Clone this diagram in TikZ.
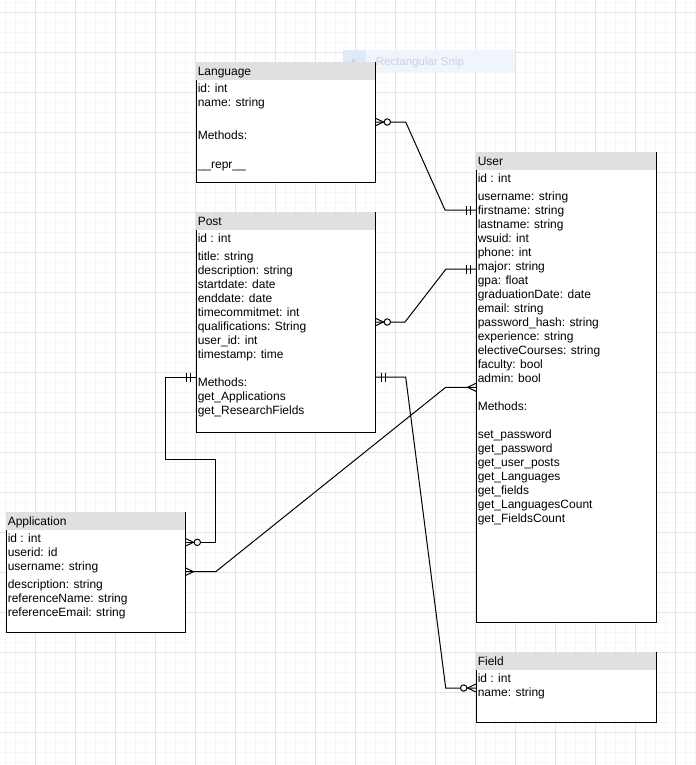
\documentclass[tikz,border=0pt]{standalone}
\usepackage{fontspec}
\setmainfont{Liberation Sans}
\usetikzlibrary{calc,fit}

\definecolor{gridmajor}{RGB}{228,228,228}
\definecolor{gridminor}{RGB}{246,246,246}
\definecolor{hdrgray}{RGB}{224,224,224}
\definecolor{snipfill}{RGB}{239,245,251}
\definecolor{snipicon}{RGB}{224,234,247}
\definecolor{sniptext}{RGB}{203,211,224}

\tikzset{
  majorline/.style={draw=gridmajor, line width=0.75pt},
  minorline/.style={draw=gridminor, line width=0.75pt},
  boxline/.style={draw=black, line width=0.75pt},
  conn/.style={draw=black, line width=0.75pt, line join=miter},
  hdrtext/.style={anchor=base west, inner sep=0pt, font=\fontsize{9}{10.5}\selectfont},
  bodytext/.style={anchor=base west, inner sep=0pt, font=\fontsize{9}{10.5}\selectfont},
  % ER end symbols: origin on the entity edge, connector leaving along +x
  zeromany/.pic={
    \draw[conn] (0,-4) -- (8.5,0) -- (0,4);
    \draw[conn, fill=white] (12.3,0) circle[radius=3.2];
  },
  many/.pic={
    \draw[conn] (0,-4) -- (8.5,0) -- (0,4);
  },
  mandone/.pic={
    \draw[conn] (6,-4.5) -- (6,4.5) (10,-4.5) -- (10,4.5);
  },
}

% entity box: name, left, top, right, bottom, title
\newcommand\erentity[6]{%
  \coordinate (#1-nw) at (#2,#3);
  \coordinate (#1-se) at (#4,#5);
  \node[fit=(#1-nw)(#1-se), inner sep=0pt, outer sep=0pt, fill=white] (#1) {};
  \fill[hdrgray] (#1.north west) rectangle ($(#1.north east)+(0,18)$);
  \draw[boxline] ($(#1.north west)+(0,18)$) -- (#1.south west) -- (#1.south east) -- (#1.north east);
  \node[hdrtext] (#1-title) at ($(#1.north west)+(1.5,13)$) {#6};
}
% attribute list: first baseline at the node's base, 10.5pt line pitch
\newcommand\attrlist[1]{\vtop{\baselineskip=10.5pt\lineskiplimit=-10pt #1}}
\newcommand\attrline[1]{\hbox{#1}}
\newcommand\attrgap[1]{\vskip#1}

\begin{document}
\begin{tikzpicture}[x=0.75pt, y=-0.75pt]
\useasboundingbox (0,0) rectangle (696,765);

% background grid
\fill[white] (0,0) rectangle (696,765);
\foreach \gx in {5.5,15.5,...,695.5} \draw[minorline] (\gx,0) -- (\gx,765);
\foreach \gy in {2.3,12.3,...,762.3} \draw[minorline] (0,\gy) -- (696,\gy);
\foreach \gx in {35.5,75.5,...,695.5} \draw[majorline] (\gx,0) -- (\gx,765);
\foreach \gy in {12.3,52.3,...,762.3} \draw[majorline] (0,\gy) -- (696,\gy);

% snipping tool caption bar
\fill[snipfill] (343,50) rectangle (515,72);
\fill[snipicon] (343,50) rectangle (366,72);
\fill[sniptext] (353.5,61) circle[radius=2.2];
\node[anchor=base west, inner sep=0pt, text=sniptext, font=\fontsize{8.6}{10}\selectfont] (snip) at (375.7,65) {Rectangular Snip};

% entities
\erentity{language}{196}{62}{375}{182}{Language}
\node[bodytext] (language-body) at ($(language.north west)+(1.5,30.7)$)
  {\attrlist{\attrline{id: int}\attrline{name: string}\attrgap{14pt}\attrline{Methods:}\attrgap{11pt}\attrline{\_\_repr\_\_}}};

\erentity{post}{196}{212}{375}{432}{Post}
\node[bodytext] (post-body) at ($(post.north west)+(1.5,30.7)$)
  {\attrlist{\attrline{id : int}\attrgap{3pt}\attrline{title: string}\attrline{description: string}\attrline{startdate: date}\attrline{enddate: date}\attrline{timecommitmet: int}\attrline{qualifications: String}\attrline{user\_id: int}\attrline{timestamp: time}\attrgap{10.5pt}\attrline{Methods:}\attrline{get\_Applications}\attrline{get\_ResearchFields}}};

\erentity{user}{476}{152}{656}{622}{User}
\node[bodytext] (user-body) at ($(user.north west)+(1.5,30.7)$)
  {\attrlist{\attrline{id : int}\attrgap{3pt}\attrline{username: string}\attrline{firstname: string}\attrline{lastname: string}\attrline{wsuid: int}\attrline{phone: int}\attrline{major: string}\attrline{gpa: float}\attrline{graduationDate: date}\attrline{email: string}\attrline{password\_hash: string}\attrline{experience: string}\attrline{electiveCourses: string}\attrline{faculty: bool}\attrline{admin: bool}\attrgap{10.5pt}\attrline{Methods:}\attrgap{10.5pt}\attrline{set\_password}\attrline{get\_password}\attrline{get\_user\_posts}\attrline{get\_Languages}\attrline{get\_fields}\attrline{get\_LanguagesCount}\attrline{get\_FieldsCount}}};

\erentity{application}{6}{512}{185}{632}{Application}
\node[bodytext] (application-body) at ($(application.north west)+(1.5,30.7)$)
  {\attrlist{\attrline{id : int}\attrline{userid: id}\attrline{username: string}\attrgap{3pt}\attrline{description: string}\attrline{referenceName: string}\attrline{referenceEmail: string}}};

\erentity{field}{476}{652}{656}{722}{Field}
\node[bodytext] (field-body) at ($(field.north west)+(1.5,30.3)$)
  {\attrlist{\attrline{id : int}\attrline{name: string}}};

% connector end points on the entity edges
\coordinate (lang-user-a) at ($(language.north east)+(0,60)$);
\coordinate (lang-user-b) at ($(user.north west)+(0,58)$);
\coordinate (post-user-a) at ($(post.north east)+(0,110)$);
\coordinate (post-user-b) at ($(user.north west)+(0,117)$);
\coordinate (post-field-a) at ($(post.north east)+(0,165)$);
\coordinate (post-field-b) at ($(field.north west)+(0,36)$);
\coordinate (app-user-a) at ($(application.north east)+(0,59.7)$);
\coordinate (app-user-b) at ($(user.north west)+(0,235.3)$);
\coordinate (post-app-a) at ($(post.north west)+(0,165)$);
\coordinate (post-app-b) at ($(application.north east)+(0,30.3)$);

% relationships
\draw[conn] (lang-user-a) -- ++(30.7,0) -- ($(lang-user-b)+(-31,0)$) -- (lang-user-b);
\draw[conn] (post-user-a) -- ++(30,0) -- ($(post-user-b)+(-30,0)$) -- (post-user-b);
\draw[conn] (post-field-a) -- ++(30.7,0) -- ($(post-field-b)+(-30.3,0)$) -- (post-field-b);
\draw[conn] (app-user-a) -- ++(30.7,0) -- ($(app-user-b)+(-30.3,0)$) -- (app-user-b);
\draw[conn] (post-app-a) -- ++(-30.3,0) -- ++(0,82.3) -| ($(post-app-b)+(30.3,0)$) -- (post-app-b);

% cardinality marks
\pic at (lang-user-a) {zeromany};
\pic[rotate=180] at (lang-user-b) {mandone};
\pic at (post-user-a) {zeromany};
\pic[rotate=180] at (post-user-b) {mandone};
\pic at (post-field-a) {mandone};
\pic[rotate=180] at (post-field-b) {zeromany};
\pic at (app-user-a) {many};
\pic[rotate=180] at (app-user-b) {many};
\pic[rotate=180] at (post-app-a) {mandone};
\pic at (post-app-b) {zeromany};
\end{tikzpicture}
\end{document}
